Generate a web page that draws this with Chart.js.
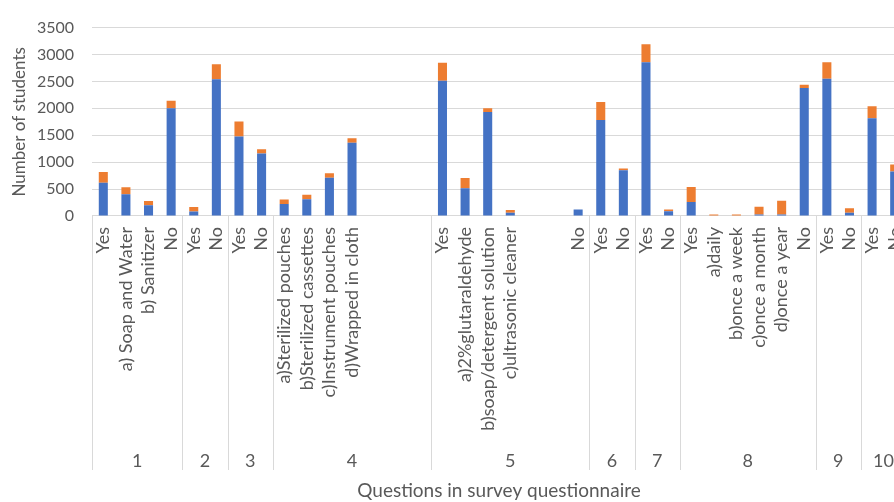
<!DOCTYPE html>
<html>
<head>
<meta charset="utf-8">
<script src="https://cdn.jsdelivr.net/npm/chart.js@4/dist/chart.umd.min.js"></script>
<style>
  html, body { margin: 0; padding: 0; background: #fff; overflow: hidden; width: 894px; height: 502px; }
  #chart { display: block; }
</style>
</head>
<body>
<canvas id="chart" width="906" height="502"></canvas>
<script>
// Answer options, listed question by question (empty strings are unused slots)
const categories = [
  'Yes', 'a) Soap and Water', 'b) Sanitizer', 'No',
  'Yes', 'No',
  'Yes', 'No',
  'a)Sterilized pouches', 'b)Sterilized cassettes', 'c)Instrument pouches', 'd)Wrapped in cloth', '', '', '',
  'Yes', 'a)2%glutaraldehyde', 'b)soap/detergent solution', 'c)ultrasonic cleaner', '', '', 'No',
  'Yes', 'No',
  'Yes', 'No',
  'Yes', 'a)daily', 'b)once a week', 'c)once a month', 'd)once a year', 'No',
  'Yes', 'No',
  'Yes', 'No'
];

// Question numbers and how many answer slots each one spans
const questions = ['1', '2', '3', '4', '5', '6', '7', '8', '9', '10'];
const questionSlots = [4, 2, 2, 7, 7, 2, 2, 6, 2, 2];

// Number of students per answer, two stacked series
const seriesOne = [
  620, 402, 202, 2004,
  83, 2542,
  1478, 1160,
  225, 310, 709, 1360, null, null, null,
  2512, 514, 1933, 60, null, null, 119,
  1785, 851,
  2855, 89,
  261, 0, 0, 30, 30, 2376,
  2548, 60,
  1815, 828
];
const seriesTwo = [
  196, 130, 76, 136,
  83, 278,
  277, 81,
  83, 85, 84, 83, null, null, null,
  337, 190, 71, 53, null, null, 0,
  332, 30,
  336, 30,
  278, 30, 30, 142, 254, 60,
  307, 82,
  224, 129
];

const yTicks = [0, 500, 1000, 1500, 2000, 2500, 3000, 3500];

const FONT = 'Lato, "Open Sans", sans-serif';
const TEXT = '#595959';
const LINE = '#d9d9d9';

// Draws the question-number row under the answer labels, its separators and the axis title
const questionRow = {
  id: 'questionRow',
  afterDraw(chart) {
    const { ctx, chartArea, scales } = chart;
    const x = scales.x;
    const slot = (chartArea.right - chartArea.left) / categories.length;
    ctx.save();
    ctx.strokeStyle = LINE;
    ctx.lineWidth = 1;
    ctx.fillStyle = TEXT;
    ctx.font = '18px ' + FONT;
    ctx.textAlign = 'center';
    ctx.textBaseline = 'middle';
    let start = 0;
    questions.forEach((q, i) => {
      const left = x.getPixelForTick(start) - slot / 2;
      const end = start + questionSlots[i];
      const right = x.getPixelForTick(end - 1) + slot / 2;
      ctx.beginPath();
      ctx.moveTo(Math.round(left) + 0.5, chartArea.bottom);
      ctx.lineTo(Math.round(left) + 0.5, 470);
      ctx.stroke();
      ctx.fillText(q, (left + right) / 2, 461);
      start = end;
    });
    const lastRight = x.getPixelForTick(categories.length - 1) + slot / 2;
    ctx.beginPath();
    ctx.moveTo(Math.round(lastRight) - 0.5, chartArea.bottom);
    ctx.lineTo(Math.round(lastRight) - 0.5, 470);
    ctx.stroke();
    ctx.font = '19px ' + FONT;
    ctx.fillText('Questions in survey questionnaire', (chartArea.left + chartArea.right) / 2, 491);
    ctx.restore();
  }
};

new Chart(document.getElementById('chart'), {
  type: 'bar',
  data: {
    labels: categories,
    datasets: [
      { label: 'Series 1', data: seriesOne, backgroundColor: '#4472C4' },
      { label: 'Series 2', data: seriesTwo, backgroundColor: '#ED7D31' }
    ]
  },
  options: {
    responsive: false,
    animation: false,
    layout: { padding: { top: 11, right: 0, bottom: 0, left: 0 } },
    datasets: { bar: { categoryPercentage: 1, barPercentage: 0.4 } },
    plugins: { legend: { display: false }, tooltip: { enabled: false } },
    scales: {
      x: {
        stacked: true,
        grid: { display: false, drawTicks: false },
        border: { display: true, color: LINE },
        ticks: {
          autoSkip: false,
          maxRotation: 90,
          minRotation: 90,
          padding: 11,
          color: TEXT,
          font: { family: FONT, size: 18 }
        },
        afterFit(scale) {
          scale.height = 286;
          scale.paddingLeft = 0;
          scale.paddingRight = 0;
        }
      },
      y: {
        stacked: true,
        min: 0,
        max: 3500,
        afterBuildTicks(scale) { scale.ticks = yTicks.map(v => ({ value: v })); },
        grid: { color: LINE, drawTicks: false },
        border: { display: false },
        ticks: {
          padding: 18,
          color: TEXT,
          font: { family: FONT, size: 16 },
          callback: v => String(v)
        },
        title: {
          display: true,
          text: 'Number of students',
          color: TEXT,
          font: { family: FONT, size: 17 },
          padding: { top: 9, bottom: 0 }
        },
        afterFit(scale) { scale.width = 92; }
      }
    }
  },
  plugins: [questionRow]
});
</script>
</body>
</html>
